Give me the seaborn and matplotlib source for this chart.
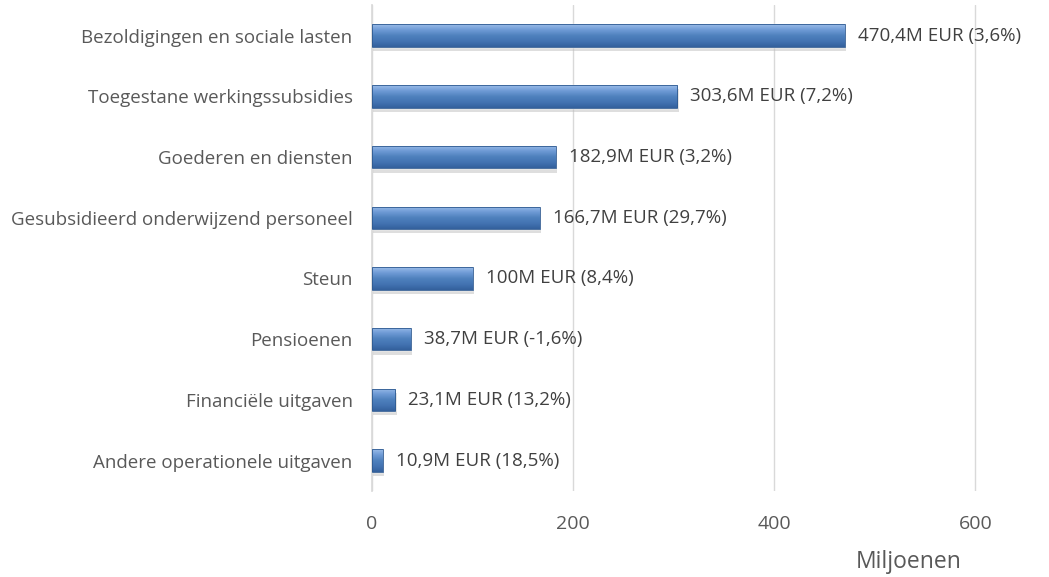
import numpy as np
import pandas as pd
import matplotlib
matplotlib.use("Agg")
import matplotlib.pyplot as plt
import seaborn as sns
from matplotlib.colors import LinearSegmentedColormap

categories = [
    "Bezoldigingen en sociale lasten",
    "Toegestane werkingssubsidies",
    "Goederen en diensten",
    "Gesubsidieerd onderwijzend personeel",
    "Steun",
    "Pensioenen",
    "Financiële uitgaven",
    "Andere operationele uitgaven",
]
values = [470.4, 303.6, 182.9, 166.7, 100.0, 38.7, 23.1, 10.9]
labels = [
    "470,4M EUR (3,6%)",
    "303,6M EUR (7,2%)",
    "182,9M EUR (3,2%)",
    "166,7M EUR (29,7%)",
    "100M EUR (8,4%)",
    "38,7M EUR (-1,6%)",
    "23,1M EUR (13,2%)",
    "10,9M EUR (18,5%)",
]
x_ticks = [0, 200, 400, 600]

sns.set_theme(style="white")
plt.rcParams["font.family"] = ["Open Sans", "DejaVu Sans"]

df = pd.DataFrame({"categorie": categories, "waarde": values})

fig = plt.figure(figsize=(10.49, 5.77), dpi=100)
ax = fig.add_axes([0.3546, 0.149, 0.578, 0.842])

sns.barplot(data=df, y="categorie", x="waarde", color="#4f81bd",
            width=0.37, ax=ax, zorder=3)

# bevel-like gradient on each bar
grad_cmap = LinearSegmentedColormap.from_list(
    "bevel", ["#9cbde9", "#6f9bd6", "#4f81bd", "#4373b2", "#33609c"])
grad = np.linspace(0, 1, 256).reshape(-1, 1)
for patch in ax.patches:
    x0, y0 = patch.get_x(), patch.get_y()
    w, h = patch.get_width(), patch.get_height()
    # shadow
    ax.add_patch(plt.Rectangle((x0 + 1.5, y0 + 0.07), w, h, color="#bfbfbf",
                               alpha=0.5, zorder=2, lw=0))
    im = ax.imshow(grad, cmap=grad_cmap, aspect="auto",
                   extent=(x0, x0 + w, y0 + h, y0), zorder=4)
    im.set_clip_path(patch)
    ax.add_patch(plt.Rectangle((x0, y0), w, h, fill=False,
                               edgecolor="#2e5a90", lw=0.6, zorder=5))

for i, (v, lab) in enumerate(zip(values, labels)):
    ax.text(v + 13, i, lab, va="center", ha="left", fontsize=13.5,
            color="#404040", zorder=6)

ax.set_xlim(0, 603)
ax.set_ylim(len(categories) - 0.5, -0.5)
ax.set_xticks(x_ticks)
ax.set_xticklabels([str(t) for t in x_ticks])
ax.tick_params(axis="x", labelsize=14, colors="#595959", pad=17, length=0)
ax.tick_params(axis="y", labelsize=13.5, colors="#595959", pad=14, length=0)
ax.grid(axis="x", color="#d9d9d9", lw=1, zorder=0)
ax.set_axisbelow(True)
for s in ["top", "right", "bottom"]:
    ax.spines[s].set_visible(False)
ax.spines["left"].set_color("#d9d9d9")
ax.set_ylabel("")
ax.set_xlabel("")
fig.text(909 / 1049, 1 - 562 / 577, "Miljoenen", ha="center", va="center",
         fontsize=16.5, color="#595959")

fig.savefig("out.png", dpi=100)
